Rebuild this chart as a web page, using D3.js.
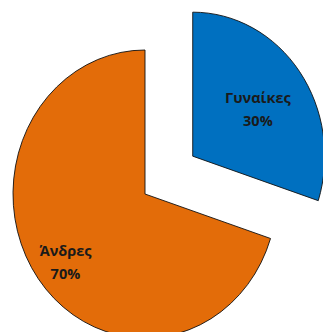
<!DOCTYPE html>
<html>
<head>
<meta charset="utf-8">
<script src="https://cdn.jsdelivr.net/npm/d3@7"></script>
<style>
  html, body { margin: 0; padding: 0; background: #fff; }
  svg { display: block; }
</style>
</head>
<body>
<div id="chart"></div>
<script>
const categories = ['Γυναίκες', 'Άνδρες']
const values = [30, 70]
const colors = ['#0070C0', '#E36C09']

const width = 323
const height = 332
const cx = 145
const cy = 194
const radius = 132
const stretchY = 144 / 132   // the reference pie is a little taller than wide
const explode = [59, 0]
const labelFrac = [0.61, 0.745]

const svg = d3.select('#chart').append('svg')
    .attr('width', width)
    .attr('height', height)

const pie = d3.pie().sort(null).value(d => d)
const arcs = pie(values)
const arc = d3.arc().innerRadius(0).outerRadius(radius)

// offset for exploded slices, along the middle angle
function shift (d, i) {
    const a = (d.startAngle + d.endAngle) / 2
    return { x: Math.sin(a) * explode[i], y: -Math.cos(a) * explode[i] }
}

const plot = svg.append('g')
    .attr('transform', `translate(${cx}, ${cy}) scale(1, ${stretchY})`)

plot.selectAll('path')
    .data(arcs)
    .enter().append('path')
    .attr('d', arc)
    .attr('transform', (d, i) => {
        const s = shift(d, i)
        return `translate(${s.x}, ${s.y})`
    })
    .attr('fill', (d, i) => colors[i])
    .attr('stroke', '#111')
    .attr('stroke-width', 0.9)
    .attr('vector-effect', 'non-scaling-stroke')

const labels = svg.append('g')
    .attr('transform', `translate(${cx}, ${cy})`)

const label = labels.selectAll('text')
    .data(arcs)
    .enter().append('text')
    .attr('transform', (d, i) => {
        const s = shift(d, i)
        const a = (d.startAngle + d.endAngle) / 2
        const r = radius * labelFrac[i]
        const x = s.x + Math.sin(a) * r
        const y = (s.y - Math.cos(a) * r) * stretchY
        return `translate(${x}, ${y})`
    })
    .attr('text-anchor', 'middle')
    .style('font-family', '"Open Sans", "Noto Sans", sans-serif')
    .style('font-weight', 'bold')
    .style('font-size', '14.5px')
    .style('fill', '#1a1a1a')

label.append('tspan')
    .attr('x', 0)
    .attr('dy', '-0.1em')
    .text((d, i) => categories[i])

label.append('tspan')
    .attr('x', 0)
    .attr('dy', '1.6em')
    .text(d => d3.format('.0%')(d.value / d3.sum(values)))
</script>
</body>
</html>
